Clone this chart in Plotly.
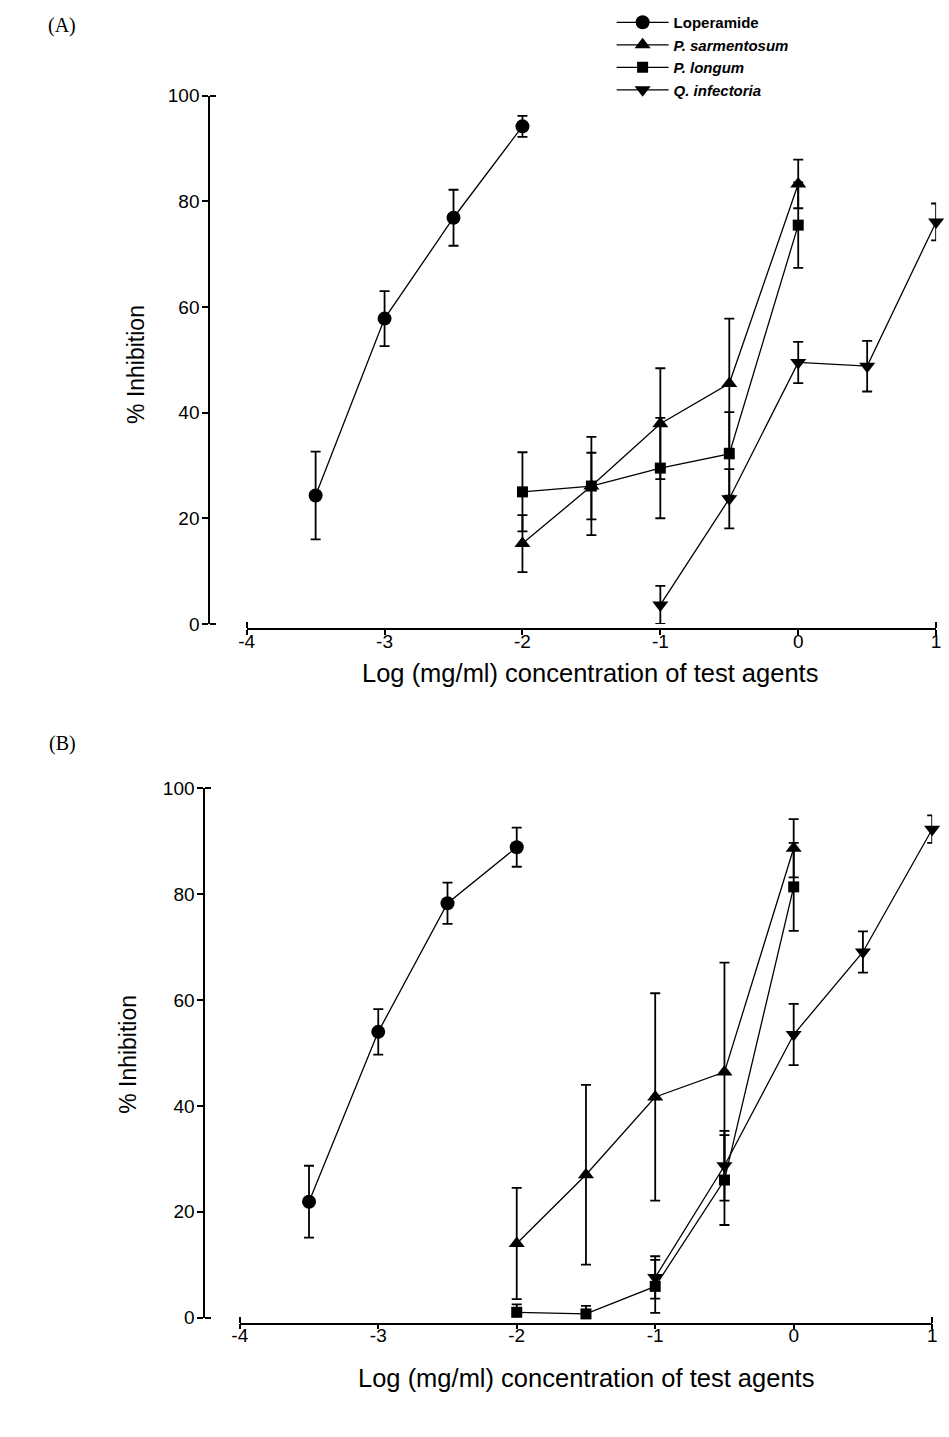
import plotly.graph_objects as go

# ---------------- data ----------------
x_lop = [-3.5, -3, -2.5, -2]
x_sar = [-2, -1.5, -1, -0.5, 0]
x_lon = [-2, -1.5, -1, -0.5, 0]
x_inf = [-1, -0.5, 0, 0.5, 1]

A_lop = [24.3, 57.8, 76.9, 94.2]
A_lop_err = [8.3, 5.2, 5.3, 2.0]
A_sar = [15.2, 26.1, 37.9, 45.5, 83.3]
A_sar_err = [5.4, 9.3, 10.5, 12.3, 4.6]
A_lon = [25.0, 26.1, 29.5, 32.2, 75.5]
A_lon_err = [7.5, 6.3, 9.5, 7.9, 8.1]
A_inf = [3.6, 23.7, 49.5, 48.8, 76.1]
A_inf_err = [3.6, 5.6, 3.9, 4.8, 3.5]

B_lop = [21.9, 54.0, 78.3, 88.9]
B_lop_err = [6.8, 4.3, 3.9, 3.7]
B_sar = [14.0, 27.0, 41.7, 46.4, 88.7]
B_sar_err = [10.5, 17.0, 19.6, 20.7, 5.5]
B_lon = [1.0, 0.7, 5.9, 26.0, 81.4]
B_lon_err = [1.5, 1.5, 5.0, 8.5, 8.3]
B_inf = [7.6, 28.7, 53.5, 69.1, 92.3]
B_inf_err = [4.0, 6.6, 5.8, 3.9, 2.6]

names = ["<b>Loperamide</b>", "<b><i>P. sarmentosum</i></b>",
         "<b><i>P. longum</i></b>", "<b><i>Q. infectoria</i></b>"]
symbols = ["circle", "triangle-up", "square", "triangle-down"]
sizes = [14, 14, 11, 14]
x_ticks = [-4, -3, -2, -1, 0, 1]
x_ticktext = ["-4", "-3", "-2", "-1", "0", "1"]
y_ticks = [0, 20, 40, 60, 80, 100]
y_ticktext = ["0", "20", "40", "60", "80", "100"]
x_title = "Log (mg/ml) concentration of test agents"
y_title = "% Inhibition"

W, H = 949, 1437
FONT = "Liberation Sans, Arial, sans-serif"
SERIF = "Liberation Serif, Times New Roman, serif"


def px_x(p):
    return p / W


def px_y(p):
    return 1 - p / H


fig = go.Figure()

panels = [
    ("x", "y", [(x_lop, A_lop, A_lop_err), (x_sar, A_sar, A_sar_err),
                (x_lon, A_lon, A_lon_err), (x_inf, A_inf, A_inf_err)], True),
    ("x2", "y2", [(x_lop, B_lop, B_lop_err), (x_sar, B_sar, B_sar_err),
                  (x_lon, B_lon, B_lon_err), (x_inf, B_inf, B_inf_err)], False),
]

for xa, ya, series, show in panels:
    for i, (xs, ys, es) in enumerate(series):
        fig.add_trace(go.Scatter(
            x=xs, y=ys, xaxis=xa, yaxis=ya,
            mode="lines+markers",
            name=names[i], showlegend=show,
            line=dict(color="black", width=1.3),
            marker=dict(symbol=symbols[i], size=sizes[i], color="black"),
            error_y=dict(type="data", array=es, visible=True,
                         color="black", thickness=1.8, width=5),
            cliponaxis=False,
        ))

tickfont = dict(family=FONT, size=19, color="black")


def main_x(dom, pos):
    return dict(domain=dom, range=[-4, 1], anchor="free", position=pos,
                showgrid=False, zeroline=False, showline=True,
                linecolor="black", linewidth=1.8,
                ticks="outside", ticklen=5, tickwidth=1.6, tickcolor="black",
                tickvals=x_ticks, ticktext=x_ticktext, tickfont=tickfont,
                ticklabelstandoff=-10, ticklabeloverflow="allow",
                minor=dict(tickvals=[-4, 1], ticks="inside", ticklen=6,
                           tickwidth=1.6, tickcolor="black", showgrid=False))


def main_y(dom, pos):
    return dict(domain=dom, range=[0, 100], anchor="free", position=pos,
                showgrid=False, zeroline=False, showline=True,
                linecolor="black", linewidth=1.8,
                ticks="outside", ticklen=6, tickwidth=1.6, tickcolor="black",
                tickvals=y_ticks, ticktext=y_ticktext, tickfont=tickfont,
                ticklabelstandoff=-1,
                minor=dict(tickvals=[0, 100], ticks="inside", ticklen=6,
                           tickwidth=1.6, tickcolor="black", showgrid=False))


fig.update_layout(
    width=W, height=H,
    margin=dict(l=0, r=0, t=0, b=0),
    paper_bgcolor="white", plot_bgcolor="white",
    showlegend=True,
    legend=dict(x=px_x(612), y=px_y(-4), xanchor="left", yanchor="top",
                font=dict(family=FONT, size=15, color="black"),
                bgcolor="rgba(0,0,0,0)", itemwidth=52, tracegroupgap=0),
    xaxis=main_x([px_x(242), px_x(941)], px_y(628)),
    yaxis=main_y([px_y(623), px_y(87)], px_x(204)),
    xaxis2=main_x([px_x(235), px_x(937)], px_y(1333)),
    yaxis2=main_y([px_y(1327), px_y(790)], px_x(199)),
)

ann = [
    dict(text="(A)", x=px_x(55), y=px_y(16), font=dict(family=SERIF, size=20)),
    dict(text="(B)", x=px_x(55), y=px_y(744), font=dict(family=SERIF, size=20)),
    dict(text=x_title, x=px_x(590), y=px_y(673), font=dict(family=FONT, size=25.5)),
    dict(text=x_title, x=px_x(586), y=px_y(1388), font=dict(family=FONT, size=25.5)),
    dict(text=y_title, x=px_x(130), y=px_y(360), textangle=-90, font=dict(family=FONT, size=23)),
    dict(text=y_title, x=px_x(121), y=px_y(1060), textangle=-90, font=dict(family=FONT, size=23)),
]
for a in ann:
    a.update(xref="paper", yref="paper", showarrow=False,
             xanchor="center", yanchor="middle")
    a["font"]["color"] = "black"
    fig.add_annotation(**a)

fig.write_html("out.html",
               config={"displayModeBar": False},
               post_script="document.documentElement.style.margin='0';"
                           "document.body.style.margin='0';"
                           "document.body.style.padding='0';"
                           "document.body.style.overflow='hidden';"
                           "document.documentElement.style.overflow='hidden';")
